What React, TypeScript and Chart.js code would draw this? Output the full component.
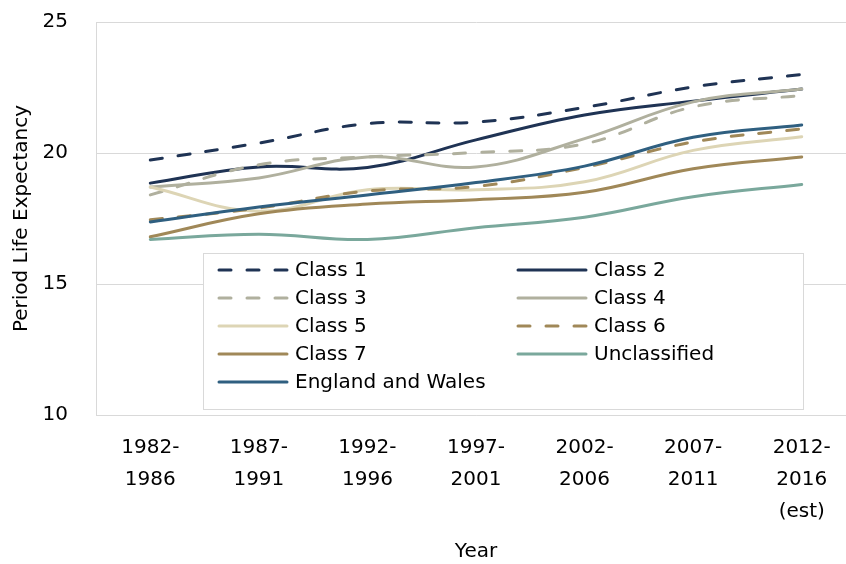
import React, { useEffect, useRef } from "react";
import { Chart, registerables } from "chart.js";

Chart.register(...registerables);

const categories: string[][] = [
  ["1982-", "1986"],
  ["1987-", "1991"],
  ["1992-", "1996"],
  ["1997-", "2001"],
  ["2002-", "2006"],
  ["2007-", "2011"],
  ["2012-", "2016", "(est)"],
];

const seriesNames = [
  "Class 1",
  "Class 2",
  "Class 3",
  "Class 4",
  "Class 5",
  "Class 6",
  "Class 7",
  "Unclassified",
  "England and Wales",
];

const class1 = [19.73, 20.38, 21.12, 21.18, 21.74, 22.52, 23.0];
const class2 = [18.85, 19.47, 19.45, 20.5, 21.45, 21.98, 22.44];
const class3 = [18.4, 19.55, 19.85, 20.02, 20.35, 21.76, 22.2];
const class4 = [18.7, 19.05, 19.85, 19.47, 20.55, 21.95, 22.44];
const class5 = [18.7, 17.78, 18.6, 18.6, 18.9, 20.1, 20.62];
const class6 = [17.45, 17.9, 18.55, 18.72, 19.45, 20.42, 20.92];
const class7 = [16.8, 17.68, 18.05, 18.22, 18.5, 19.4, 19.85];
const unclassified = [16.7, 16.9, 16.7, 17.15, 17.55, 18.33, 18.8];
const englandWales = [17.37, 17.94, 18.4, 18.87, 19.5, 20.6, 21.07];

const seriesValues = [class1, class2, class3, class4, class5, class6, class7, unclassified, englandWales];
const seriesColors = ["#1f3354", "#1f3354", "#b0b09e", "#b0b09e", "#ddd5b5", "#a08858", "#a08858", "#7aa89c", "#2f5f80"];
const seriesDashed = [true, false, true, false, false, true, false, false, false];

const yMin = 10;
const yMax = 25;
const yStep = 5;

const FONT = "'DejaVu Sans', sans-serif";
const DASH = [12, 16];

const legendPlugin = {
  id: "boxLegend",
  afterDraw(chart: any) {
    const { ctx, chartArea } = chart;
    const bx = chartArea.left + 107;
    const by = chartArea.top + 231;
    const bw = 600;
    const bh = 156;
    ctx.save();
    ctx.fillStyle = "#ffffff";
    ctx.fillRect(bx, by, bw, bh);
    ctx.strokeStyle = "#d9d9d9";
    ctx.lineWidth = 1;
    ctx.strokeRect(bx + 0.5, by + 0.5, bw, bh);
    ctx.font = "20px " + FONT;
    ctx.textBaseline = "middle";
    ctx.textAlign = "left";
    chart.data.datasets.forEach((ds: any, i: number) => {
      const col = i % 2;
      const row = Math.floor(i / 2);
      const x0 = bx + 15 + col * 299;
      const yc = by + 17 + row * 28;
      ctx.beginPath();
      ctx.strokeStyle = ds.borderColor;
      ctx.lineWidth = 3;
      ctx.lineCap = "round";
      ctx.setLineDash(ds.borderDash || []);
      ctx.moveTo(x0 + 1, yc);
      ctx.lineTo(x0 + 69, yc);
      ctx.stroke();
      ctx.setLineDash([]);
      ctx.fillStyle = "#000000";
      ctx.fillText(ds.label, x0 + 77, yc + 1);
    });
    ctx.restore();
  },
};

export default function App() {
  const ref = useRef<HTMLCanvasElement | null>(null);
  useEffect(() => {
    if (!ref.current) return;
    const chart = new Chart(ref.current, {
      type: "line",
      data: {
        labels: categories,
        datasets: seriesNames.map((name, i) => ({
          label: name,
          data: seriesValues[i],
          borderColor: seriesColors[i],
          backgroundColor: seriesColors[i],
          borderWidth: 3,
          borderDash: seriesDashed[i] ? DASH : [],
          borderCapStyle: "round" as const,
          pointRadius: 0,
          pointHoverRadius: 0,
          tension: 0.4,
          fill: false,
          order: seriesNames.length - i,
        })),
      },
      options: {
        animation: false,
        responsive: false,
        maintainAspectRatio: false,
        layout: { padding: { top: 22, right: 14, left: 0, bottom: 0 } },
        plugins: {
          legend: { display: false },
          tooltip: { enabled: false },
        },
        scales: {
          x: {
            offset: true,
            grid: { display: false, drawTicks: false },
            border: { display: true, color: "#d9d9d9", width: 1 },
            ticks: {
              color: "#000000",
              font: { family: FONT, size: 20, lineHeight: 1.6 },
              padding: 17,
              maxRotation: 0,
              autoSkip: false,
            },
            title: {
              display: true,
              text: "Year",
              color: "#000000",
              font: { family: FONT, size: 20, lineHeight: 1.2 },
              padding: { top: 0, bottom: 0 },
            },
            afterFit(scale: any) {
              scale.height = 149;
            },
          },
          y: {
            min: yMin,
            max: yMax,
            grid: { color: "#d9d9d9", lineWidth: 1, drawTicks: true, tickLength: 28, tickColor: "rgba(0,0,0,0)" },
            border: { display: true, color: "#d9d9d9", width: 1 },
            ticks: {
              stepSize: yStep,
              color: "#000000",
              font: { family: FONT, size: 20 },
              padding: 0,
            },
            title: {
              display: true,
              text: "Period Life Expectancy",
              color: "#000000",
              font: { family: FONT, size: 20, lineHeight: 1.2 },
              padding: { top: 10, bottom: 0 },
            },
            afterFit(scale: any) {
              scale.width = 96;
            },
          },
        },
      },
      plugins: [legendPlugin],
    });
    return () => chart.destroy();
  }, []);

  return (
    <div style={{ position: "fixed", left: 0, top: 0, width: 846, height: 564, overflow: "hidden", background: "#fff" }}>
      <canvas ref={ref} width={870} height={564} style={{ display: "block", width: 870, height: 564 }} />
    </div>
  );
}
